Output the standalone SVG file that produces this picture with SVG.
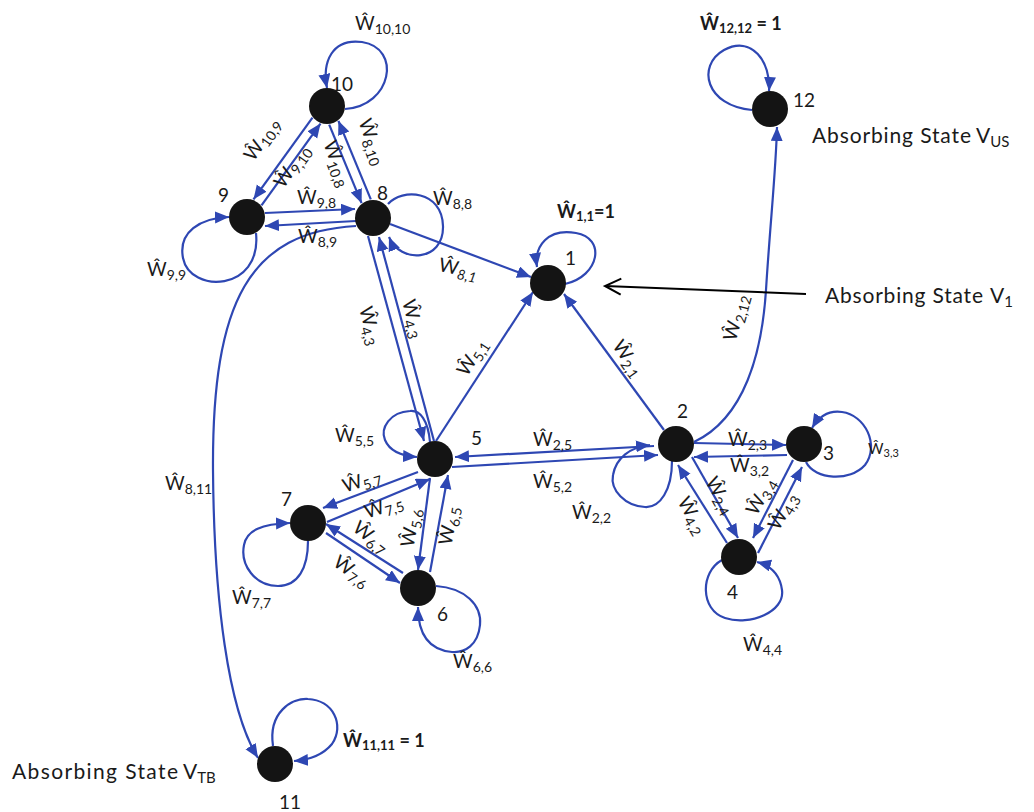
<svg xmlns="http://www.w3.org/2000/svg" width="1034" height="812" viewBox="0 0 1034 812">
<style>
.e{fill:none;stroke:#2e47b3;stroke-width:2.2;marker-end:url(#ah)}
.nd{fill:#141414}
.n{font-family:Lato,"Open Sans",sans-serif;font-size:19px;fill:#1a1a1a}
.w{font-family:Lato,"Open Sans",sans-serif;font-size:19px;fill:#1a1a1a}
.r{text-anchor:middle}
.s{font-size:14px}
.ws{font-family:Lato,"Open Sans",sans-serif;font-size:15px;fill:#1a1a1a}
.ss{font-size:11px}
.b{font-family:Lato,"Open Sans",sans-serif;font-size:18px;font-weight:bold;fill:#1a1a1a}
.bs{font-size:13px}
.a{font-family:Lato,"Open Sans",sans-serif;font-size:21px;fill:#1a1a1a}
.as{font-size:15px}
</style>
<defs>
<marker id="ah" markerUnits="userSpaceOnUse" markerWidth="16" markerHeight="14" refX="14" refY="6" orient="auto"><path d="M0,0 L14,6 L0,12 z" fill="#2e47b3"/></marker>
<marker id="oa" markerUnits="userSpaceOnUse" markerWidth="20" markerHeight="20" refX="17" refY="9" orient="auto"><path d="M1,1 L17,9 L1,17" fill="none" stroke="#000" stroke-width="2"/></marker>
</defs>
<rect width="1034" height="812" fill="#fff"/>
<g id="connectors">
<path class="e" d="M312.5,117.6 L253.5,199.4"/>
<path class="e" d="M261.5,205.4 L320.5,123.6"/>
<path class="e" d="M329.2,124.6 L361.6,203.2"/>
<path class="e" d="M370.8,199.4 L338.4,120.8"/>
<path class="e" d="M265,213 L355,209"/>
<path class="e" d="M356,221 L265,226"/>
<path class="e" d="M390,224 L531,277"/>
<path class="e" d="M368,236 L424,441"/>
<path class="e" d="M434,441 L379,237"/>
<path class="e" d="M436,441 L533,292"/>
<path class="e" d="M664,430 L564,294"/>
<path class="e" d="M654,446 L455,457"/>
<path class="e" d="M452,467 L658,455"/>
<path class="e" d="M694,443 L786,445"/>
<path class="e" d="M787,455 L694,457"/>
<path class="e" d="M727,543 L678,465"/>
<path class="e" d="M692,457 L738,538"/>
<path class="e" d="M793,460 L753,538"/>
<path class="e" d="M758,553 L802,467"/>
<path class="e" d="M418,472 L323,508"/>
<path class="e" d="M327,522 L430,479"/>
<path class="e" d="M430,478 L418,570"/>
<path class="e" d="M430,572 L448,475"/>
<path class="e" d="M403,573 L326,524"/>
<path class="e" d="M326,533 L400,583"/>
<path class="e" d="M694,442 C745,418 762,352 766,290 C770,225 776,170 777,127"/>
<path class="e" d="M356,226 C250,232 212,300 213,470 C214,600 228,710 258,758"/>
<path class="e" d="M345,109 C392,106 402,48 362,42 C332,38 322,62 327,88"/>
<path class="e" d="M256,233 C262,292 190,294 183,258 C178,232 200,218 229,217"/>
<path class="e" d="M388,204 C402,188 442,190 443,226 C444,262 400,264 389,237"/>
<path class="e" d="M565,284 C600,276 606,238 576,233 C548,228 534,246 537,267"/>
<path class="e" d="M752,110 C706,106 696,66 724,50 C752,35 771,62 769,91"/>
<path class="e" d="M273,746 C268,712 292,698 308,699 C333,700 345,725 332,744 C322,756 308,760 294,761"/>
<path class="e" d="M430,442 C428,420 420,410 410,411 C390,412 380,428 385,440 C390,452 402,456 417,457"/>
<path class="e" d="M672,461 C672,490 660,508 645,507 C625,506 610,490 613,475 C616,458 630,447 650,445"/>
<path class="e" d="M308,541 C308,568 298,586 278,586 C255,586 240,565 244,545 C247,530 262,524 290,523"/>
<path class="e" d="M436,586 C465,588 482,605 480,625 C478,645 465,653 452,652 C430,650 418,635 418,607"/>
<path class="e" d="M806,462 C815,480 850,482 865,465 C880,445 865,415 842,412 C828,410 818,418 812,428"/>
<path class="e" d="M722,560 C700,572 700,610 725,618 C750,626 785,612 782,590 C780,575 772,566 757,562"/>
<path d="M806,294 L605,286" fill="none" stroke="#000" stroke-width="2" marker-end="url(#oa)"/>
</g>
<g id="edge-labels">
<text class="w" x="355" y="30">Ŵ<tspan class="s" dy="4">10,10</tspan></text>
<text class="w" x="297" y="204">Ŵ<tspan class="s" dy="4">9,8</tspan></text>
<text class="w" x="298" y="243">Ŵ<tspan class="s" dy="4">8,9</tspan></text>
<text class="w" x="433" y="205">Ŵ<tspan class="s" dy="4">8,8</tspan></text>
<text class="w" x="147" y="276">Ŵ<tspan class="s" dy="4">9,9</tspan></text>
<text class="w" x="335" y="442">Ŵ<tspan class="s" dy="4">5,5</tspan></text>
<text class="w" x="533" y="446">Ŵ<tspan class="s" dy="4">2,5</tspan></text>
<text class="w" x="533" y="488">Ŵ<tspan class="s" dy="4">5,2</tspan></text>
<text class="w" x="232" y="604">Ŵ<tspan class="s" dy="4">7,7</tspan></text>
<text class="w" x="453" y="668">Ŵ<tspan class="s" dy="4">6,6</tspan></text>
<text class="w" x="165" y="490">Ŵ<tspan class="s" dy="4">8,11</tspan></text>
<text class="w" x="728" y="446">Ŵ<tspan class="s" dy="4">2,3</tspan></text>
<text class="w" x="730" y="472">Ŵ<tspan class="s" dy="4">3,2</tspan></text>
<text class="ws" x="868" y="454">Ŵ<tspan class="ss" dy="3">3,3</tspan></text>
<text class="w" x="572" y="519">Ŵ<tspan class="s" dy="4">2,2</tspan></text>
<text class="w" x="743" y="651">Ŵ<tspan class="s" dy="4">4,4</tspan></text>
<text class="b" x="557" y="218">Ŵ<tspan class="bs" dy="3">1,1</tspan><tspan dy="-3">=1</tspan></text>
<text class="b" x="700" y="30">Ŵ<tspan class="bs" dy="3">12,12</tspan><tspan dy="-3"> = 1</tspan></text>
<text class="b" x="343" y="747">Ŵ<tspan class="bs" dy="3">11,11</tspan><tspan dy="-3"> = 1</tspan></text>
<text class="w r" transform="translate(263,140) rotate(-55)" y="5">Ŵ<tspan class="s" dy="4">10,9</tspan></text>
<text class="w r" transform="translate(293,167) rotate(-55)" y="5">Ŵ<tspan class="s" dy="4">9,10</tspan></text>
<text class="w r" transform="translate(336,164) rotate(70)" y="5">Ŵ<tspan class="s" dy="4">10,8</tspan></text>
<text class="w r" transform="translate(371,142) rotate(70)" y="5">Ŵ<tspan class="s" dy="4">8,10</tspan></text>
<text class="w r" transform="translate(369,326) rotate(75)" y="5">Ŵ<tspan class="s" dy="4">4,3</tspan></text>
<text class="w r" transform="translate(412,319) rotate(75)" y="5">Ŵ<tspan class="s" dy="4">4,3</tspan></text>
<text class="w r" transform="translate(473,358) rotate(-58)" y="5">Ŵ<tspan class="s" dy="4">5,1</tspan></text>
<text class="w r" transform="translate(627,359) rotate(55)" y="5">Ŵ<tspan class="s" dy="4">2,1</tspan></text>
<text class="w r" transform="translate(458,270) rotate(12)" y="5">Ŵ<tspan class="s" dy="4" font-style="italic">8,1</tspan></text>
<text class="w r" transform="translate(737,318) rotate(-75)" y="5">Ŵ<tspan class="s" dy="4">2,12</tspan></text>
<text class="w r" transform="translate(362,482) rotate(-18)" y="5">Ŵ<tspan class="s" dy="4">5,7</tspan></text>
<text class="w r" transform="translate(384,508) rotate(-18)" y="5">Ŵ<tspan class="s" dy="4">7,5</tspan></text>
<text class="w r" transform="translate(370,538) rotate(38)" y="5">Ŵ<tspan class="s" dy="4">6,7</tspan></text>
<text class="w r" transform="translate(351,572) rotate(35)" y="5">Ŵ<tspan class="s" dy="4">7,6</tspan></text>
<text class="w r" transform="translate(412,528) rotate(-80)" y="5">Ŵ<tspan class="s" dy="4">5,6</tspan></text>
<text class="w r" transform="translate(450,526) rotate(-80)" y="5">Ŵ<tspan class="s" dy="4">6,5</tspan></text>
<text class="w r" transform="translate(719,496) rotate(60)" y="5">Ŵ<tspan class="s" dy="4">2,4</tspan></text>
<text class="w r" transform="translate(691,516) rotate(60)" y="5">Ŵ<tspan class="s" dy="4">4,2</tspan></text>
<text class="w r" transform="translate(762,497) rotate(-60)" y="5">Ŵ<tspan class="s" dy="4">3,4</tspan></text>
<text class="w r" transform="translate(784,512) rotate(-60)" y="5">Ŵ<tspan class="s" dy="4">4,3</tspan></text>
</g>
<g id="node-1"><circle class="nd" cx="548" cy="283" r="18"/><text class="n" x="565" y="265">1</text>
<text class="a" x="825" y="303"><tspan textLength="158" lengthAdjust="spacing">Absorbing State</tspan><tspan x="990">V</tspan><tspan class="as" dy="4">1</tspan></text></g>
<g id="node-2"><circle class="nd" cx="676" cy="444" r="18"/><text class="n" x="677" y="418">2</text></g>
<g id="node-3"><circle class="nd" cx="804" cy="444" r="18"/><text class="n" x="823" y="460">3</text></g>
<g id="node-4"><circle class="nd" cx="739" cy="557" r="18"/><text class="n" x="727" y="599">4</text></g>
<g id="node-5"><circle class="nd" cx="435" cy="459" r="18"/><text class="n" x="471" y="445">5</text></g>
<g id="node-6"><circle class="nd" cx="418" cy="588" r="18"/><text class="n" x="437" y="621">6</text></g>
<g id="node-7"><circle class="nd" cx="308" cy="523" r="18"/><text class="n" x="281" y="506">7</text></g>
<g id="node-8"><circle class="nd" cx="373" cy="218" r="18"/><text class="n" x="377" y="200">8</text></g>
<g id="node-9"><circle class="nd" cx="247" cy="217" r="18"/><text class="n" x="218" y="202">9</text></g>
<g id="node-10"><circle class="nd" cx="327" cy="106" r="18"/><text class="n" x="331" y="91">10</text></g>
<g id="node-11"><circle class="nd" cx="275" cy="764" r="18"/><text class="n" x="279" y="809">11</text>
<text class="a" x="12" y="779"><tspan textLength="166" lengthAdjust="spacing">Absorbing State</tspan><tspan x="183">V</tspan><tspan class="as" dy="4">TB</tspan></text></g>
<g id="node-12"><circle class="nd" cx="770" cy="109" r="18"/><text class="n" x="793" y="107">12</text>
<text class="a" x="812" y="143"><tspan textLength="159" lengthAdjust="spacing">Absorbing State</tspan><tspan x="976">V</tspan><tspan class="as" dy="4">US</tspan></text></g>
</svg>
